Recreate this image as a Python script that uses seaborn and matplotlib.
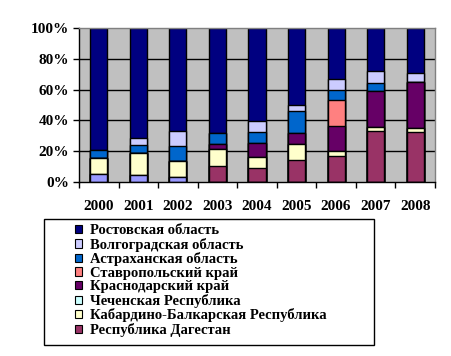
import numpy as np
import pandas as pd
import matplotlib
matplotlib.use("Agg")
import matplotlib.pyplot as plt
from matplotlib.patches import Patch, Rectangle
import seaborn as sns

years = ["2000", "2001", "2002", "2003", "2004", "2005", "2006", "2007", "2008"]

# shares, % (bottom -> top of stack)
other_region = [5.0, 4.3, 3.2, 0, 0, 0, 0, 0, 0]          # label cut off in the source
dagestan = [0, 0, 0, 10.4, 9.1, 14.3, 16.9, 33.1, 32.5]
kabbalk = [10.5, 14.3, 10.2, 11.0, 7.1, 10.4, 3.0, 2.8, 2.6]
chechnya = [0, 0, 0, 0, 0, 0, 0, 0, 0]
krasnodar = [0, 0, 0, 3.3, 9.1, 6.9, 16.5, 23.2, 29.8]
stavropol = [0, 0, 0, 0, 0, 0, 16.8, 0, 0]
astrakhan = [5.3, 5.2, 10.0, 7.1, 7.2, 14.7, 6.5, 5.2, 0]
volgograd = [0, 4.6, 9.5, 0, 6.9, 3.5, 7.2, 7.8, 5.9]
rostov = [79.2, 71.6, 67.1, 68.2, 60.6, 50.2, 33.1, 27.9, 29.2]

series_names = ["", "Республика Дагестан", "Кабардино-Балкарская Республика",
                "Чеченская Республика", "Краснодарский край", "Ставропольский край",
                "Астраханская область", "Волгоградская область", "Ростовская область"]
series_vals = [other_region, dagestan, kabbalk, chechnya, krasnodar, stavropol,
               astrakhan, volgograd, rostov]
colors = ["#9999FF", "#993366", "#FFFFCC", "#CCFFFF", "#660066", "#FF8080",
          "#0066CC", "#CCCCFF", "#000080"]

plt.rcParams['font.family'] = ['Liberation Serif', 'DejaVu Serif']
plt.rcParams['font.weight'] = 'bold'

FS = 11

fig = plt.figure(figsize=(4.51, 3.56), dpi=100)
ax = fig.add_axes([79/451, 1-182/356, (435-79)/451, (182-28)/356])
ax.set_facecolor("#C0C0C0")

arr = np.array(series_vals, dtype=float)
cum = np.cumsum(arr, axis=0)
tot = cum[-1]
pct = cum / tot * 100

for i in range(len(series_vals) - 1, -1, -1):
    df = pd.DataFrame({"year": years, "val": pct[i]})
    sns.barplot(data=df, x="year", y="val", color=colors[i], saturation=1,
                width=0.43, edgecolor="black", linewidth=1.0, ax=ax, zorder=3)

ax.set_ylim(0, 100)
ax.set_xlim(-0.5, 8.5)
ax.set_yticks([0, 20, 40, 60, 80, 100])
ax.set_yticklabels(["0%", "20%", "40%", "60%", "80%", "100%"])
for y in [20, 40, 60, 80]:
    ax.axhline(y, color="black", lw=1.0, zorder=1)
ax.set_xticks(range(9))
ax.set_xticklabels(years)
ax.set_xticks(np.arange(-0.5, 9.0, 1.0), minor=True)
ax.tick_params(axis="x", which="major", length=0, pad=13, labelsize=FS)
ax.tick_params(axis="x", which="minor", length=4, width=1, color="black", direction="out")
ax.tick_params(axis="y", length=4, width=1, color="black", direction="out", labelsize=FS, pad=3)
ax.set_xlabel("")
ax.set_ylabel("")
for lab in ax.get_xticklabels() + ax.get_yticklabels():
    lab.set_fontweight("bold")
ax.spines["left"].set_color("black")
ax.spines["bottom"].set_color("black")
ax.spines["top"].set_color("#808080")
ax.spines["right"].set_color("#808080")
for s in ax.spines.values():
    s.set_linewidth(1.0)
    s.set_zorder(4)

# legend box
fig.patches.append(Rectangle((44/451, 1-345/356), (374-44)/451, (345-219)/356,
                             transform=fig.transFigure, fill=False,
                             edgecolor="black", lw=1.0))
handles = [Patch(facecolor=colors[i], edgecolor="black", lw=0.8, label=series_names[i])
           for i in range(len(series_vals) - 1, 0, -1)]
leg = fig.legend(handles=handles, loc="upper left",
                 bbox_to_anchor=(75/451, 1-224/356), frameon=False,
                 prop={"family": "Liberation Serif", "weight": "bold", "size": 10.5},
                 handlelength=0.5, handleheight=0.5, handletextpad=0.5,
                 labelspacing=0.04, borderpad=0, borderaxespad=0)

fig.savefig("out.png", dpi=100)
